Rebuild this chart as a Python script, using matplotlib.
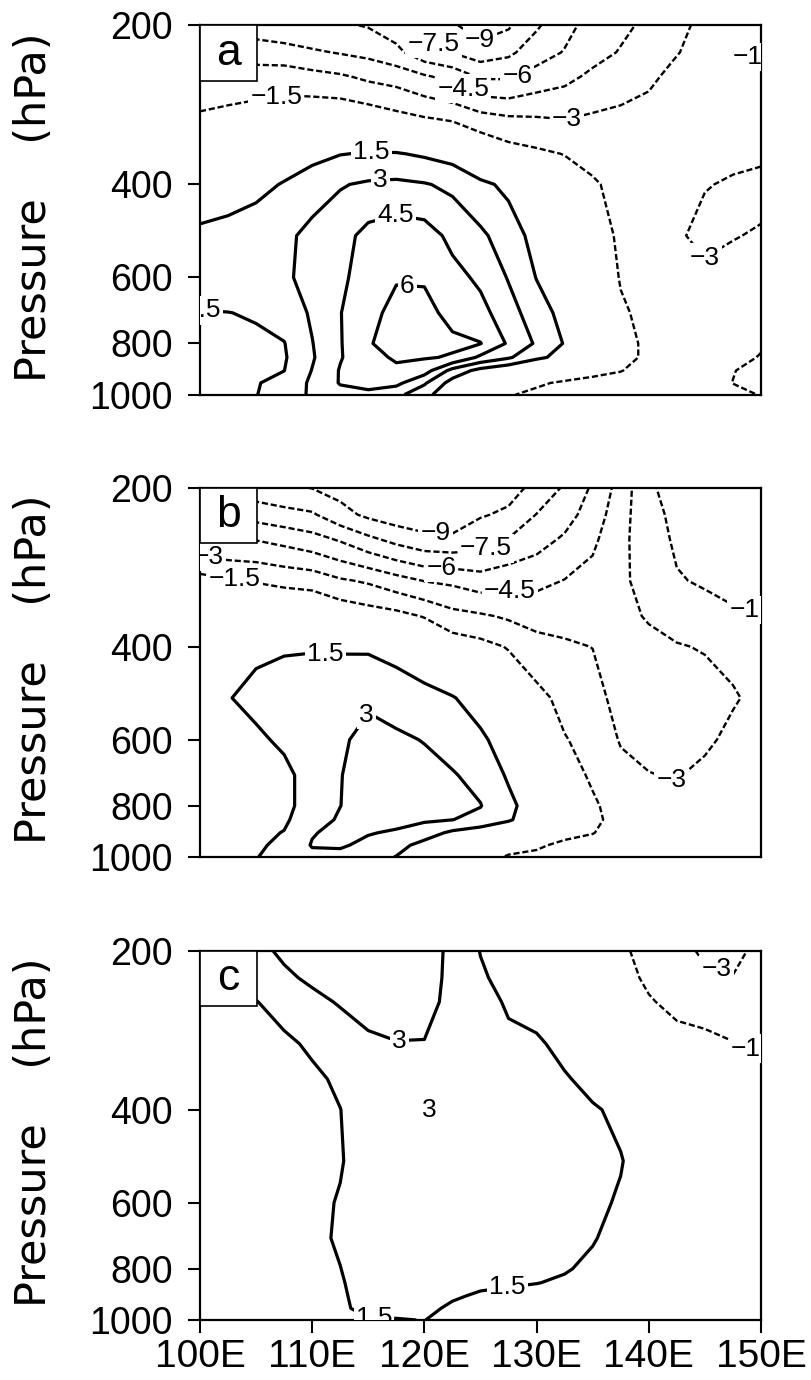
import numpy as np
import matplotlib
matplotlib.use("Agg")
import matplotlib.pyplot as plt
from matplotlib import font_manager, ticker
from matplotlib.patches import Rectangle

LONS = [100, 102.5, 105, 107.5, 110, 112.5, 115, 117.5, 120, 122.5, 125,
        127.5, 130, 132.5, 135, 137.5, 140, 142.5, 145, 147.5, 150]
LEVELS = [200, 225, 250, 300, 350, 400, 500, 600, 700, 800, 850, 900, 950, 1000]

# one vertical profile per longitude (100E ... 150E), values from 200 hPa down to 1000 hPa
FIELD_A = [
    [-4.9, -3.4, -2.4, -1.3, -0.2, 0.6, 1.8, 2.1, 1.45, 1.1, 1.0, 0.9, 0.9, 0.9],
    [-5.0, -3.6, -2.3, -1.1, 0.0, 0.8, 2.0, 2.3, 1.48, 1.2, 1.1, 1.0, 1.0, 1.0],
    [-5.2, -3.8, -2.2, -0.9, 0.3, 1.1, 2.3, 2.6, 1.6, 1.3, 1.25, 1.3, 1.4, 1.45],
    [-5.4, -4.0, -2.1, -0.7, 0.7, 1.6, 2.6, 2.8, 2.1, 1.45, 1.35, 1.48, 2.0, 2.3],
    [-5.7, -4.3, -2.5, -0.3, 1.1, 2.2, 3.5, 3.4, 3.2, 2.95, 2.85, 3.05, 3.25, 3.2],
    [-5.8, -4.6, -2.8, -0.2, 1.45, 2.9, 3.9, 4.2, 4.45, 4.4, 4.4, 4.6, 4.6, 4.0],
    [-6.1, -4.9, -3.3, -0.5, 1.6, 3.2, 5.0, 5.2, 5.6, 5.9, 5.5, 5.2, 4.9, 4.2],
    [-6.8, -5.6, -3.6, -1.0, 1.6, 3.3, 5.4, 5.9, 6.4, 6.5, 6.2, 5.7, 4.9, 3.4],
    [-8.0, -7.0, -4.3, -1.4, 1.3, 3.1, 5.2, 5.9, 6.3, 6.3, 6.1, 5.2, 3.2, 2.0],
    [-8.8, -7.55, -5.0, -1.7, 0.9, 2.7, 4.1, 5.0, 5.7, 6.2, 5.9, 2.5, 0.9, 0.3],
    [-9.8, -8.3, -6.2, -2.4, 0.0, 1.8, 3.3, 4.2, 5.0, 6.05, 4.2, 1.0, -0.2, -0.7],
    [-9.2, -7.8, -6.2, -2.8, -0.8, 1.2, 2.2, 2.9, 3.6, 4.3, 3.2, 0.2, -1.0, -1.4],
    [-7.7, -6.7, -5.4, -2.9, -1.2, 0.2, 1.0, 1.45, 2.2, 2.8, 1.8, -0.4, -1.3, -1.8],
    [-6.5, -5.9, -4.9, -3.05, -1.55, -0.6, 0.2, 0.6, 1.0, 1.4, 1.0, -0.5, -1.7, -2.0],
    [-5.4, -5.0, -4.2, -2.8, -2.0, -1.3, -0.6, -0.2, 0.1, 0.3, 0.0, -1.1, -1.9, -2.1],
    [-4.8, -4.4, -3.6, -2.7, -2.3, -2.0, -1.8, -1.6, -1.3, -1.0, -1.0, -1.45, -2.0, -2.2],
    [-4.2, -3.8, -3.2, -2.6, -2.4, -2.4, -2.3, -2.1, -1.9, -1.8, -1.8, -2.0, -2.2, -2.3],
    [-3.4, -3.05, -2.7, -2.5, -2.5, -2.6, -2.85, -2.6, -2.2, -2.0, -2.0, -2.1, -2.2, -2.3],
    [-2.6, -2.6, -2.6, -2.6, -2.7, -2.95, -3.3, -2.7, -2.3, -2.1, -2.1, -2.1, -2.2, -2.3],
    [-2.0, -2.1, -2.3, -2.5, -2.8, -3.1, -3.05, -2.6, -2.3, -2.3, -2.5, -2.95, -3.02, -2.7],
    [-1.2, -1.4, -1.7, -2.2, -2.8, -3.3, -2.9, -2.7, -2.5, -2.8, -3.1, -3.4, -3.5, -3.05],
]

FIELD_B = [
    [-7.8, -5.9, -4.3, -0.9, 0.0, 0.6, 1.1, 0.9, 0.7, 0.6, 0.6, 0.6, 0.6, 0.6],
    [-8.1, -6.2, -4.6, -1.3, 0.1, 0.8, 1.45, 1.2, 0.9, 0.8, 0.8, 0.8, 0.8, 0.8],
    [-8.4, -6.6, -4.6, -1.6, 0.2, 1.3, 1.8, 1.3, 1.0, 1.0, 1.1, 1.2, 1.3, 1.45],
    [-8.7, -7.0, -5.0, -1.9, 0.3, 1.4, 2.0, 1.7, 1.2, 1.2, 1.3, 1.55, 1.8, 2.0],
    [-9.05, -7.3, -5.5, -2.1, 0.2, 1.4, 2.3, 2.2, 2.0, 2.0, 2.3, 2.9, 3.1, 2.6],
    [-9.5, -8.5, -6.2, -2.8, -0.3, 1.35, 2.5, 2.8, 2.95, 2.98, 3.2, 3.4, 3.2, 2.5],
    [-10.0, -9.3, -7.2, -3.2, -0.7, 1.3, 2.8, 3.4, 3.6, 3.7, 3.6, 3.1, 2.6, 2.1],
    [-10.3, -9.8, -8.0, -3.9, -1.0, 0.9, 2.5, 3.2, 3.7, 3.9, 3.5, 2.8, 2.0, 1.45],
    [-10.4, -10.0, -8.6, -4.55, -1.6, 0.4, 2.0, 2.95, 3.4, 3.5, 3.2, 2.2, 1.0, 0.5],
    [-10.4, -10.0, -8.7, -4.8, -2.5, -0.6, 1.6, 2.5, 3.1, 3.2, 3.02, 1.2, 0.0, -0.4],
    [-9.7, -9.1, -8.3, -5.3, -2.8, -1.0, 0.8, 1.8, 2.6, 3.05, 2.6, 0.6, -0.6, -1.1],
    [-9.4, -8.8, -7.45, -5.0, -3.2, -1.6, -0.1, 0.7, 1.3, 1.9, 1.7, 0.0, -1.1, -1.6],
    [-8.7, -7.45, -6.6, -4.9, -3.5, -2.5, -1.0, -0.4, 0.2, 0.6, 0.4, -0.5, -1.3, -1.8],
    [-7.3, -6.6, -5.8, -4.45, -3.5, -2.8, -2.0, -1.4, -0.9, -0.6, -0.6, -1.1, -1.8, -2.1],
    [-5.8, -5.3, -4.8, -4.0, -3.5, -3.02, -2.5, -2.1, -1.7, -1.3, -1.2, -1.45, -2.0, -2.2],
    [-3.9, -3.6, -3.4, -3.25, -3.3, -3.4, -3.5, -3.1, -2.6, -2.1, -2.0, -2.1, -2.3, -2.4],
    [-1.65, -1.9, -2.1, -2.5, -2.9, -3.3, -3.6, -3.4, -2.95, -2.5, -2.3, -2.3, -2.4, -2.5],
    [-1.1, -1.2, -1.3, -1.6, -2.4, -3.1, -3.8, -3.7, -3.1, -2.6, -2.4, -2.3, -2.3, -2.4],
    [-0.8, -0.9, -1.0, -1.35, -2.0, -2.9, -3.6, -3.3, -2.6, -2.3, -2.2, -2.2, -2.2, -2.3],
    [-0.6, -0.7, -0.8, -1.1, -1.7, -2.6, -3.15, -2.6, -2.2, -2.1, -2.1, -2.1, -2.1, -2.2],
    [-0.5, -0.55, -0.6, -0.9, -1.6, -2.2, -2.6, -2.3, -2.1, -2.0, -2.0, -2.0, -2.0, -2.1],
]

FIELD_C = [
    [1.4, 1.2, 1.0, 0.8, 0.7, 0.7, 0.7, 0.7, 0.7, 0.7, 0.7, 0.7, 0.7, 0.7],
    [1.9, 1.4, 1.1, 0.9, 0.8, 0.8, 0.8, 0.8, 0.8, 0.8, 0.8, 0.8, 0.8, 0.8],
    [2.7, 2.1, 1.45, 1.0, 0.9, 0.85, 0.85, 0.85, 0.85, 0.85, 0.85, 0.85, 0.85, 0.85],
    [3.2, 2.8, 2.1, 1.2, 1.0, 0.95, 0.95, 0.95, 0.95, 0.95, 0.95, 0.95, 0.95, 0.95],
    [3.6, 3.2, 2.7, 1.75, 1.2, 1.1, 1.1, 1.15, 1.2, 1.2, 1.15, 1.1, 1.1, 1.1],
    [3.8, 3.5, 3.1, 2.3, 1.75, 1.48, 1.4, 1.6, 1.65, 1.48, 1.4, 1.35, 1.35, 1.3],
    [3.9, 3.7, 3.4, 2.8, 2.4, 2.3, 2.2, 2.2, 2.2, 2.1, 2.0, 1.9, 1.75, 1.45],
    [3.9, 3.8, 3.6, 2.95, 2.6, 2.6, 2.5, 2.45, 2.4, 2.3, 2.2, 2.0, 1.8, 1.45],
    [3.6, 3.5, 3.4, 2.95, 2.8, 3.05, 2.75, 2.6, 2.5, 2.35, 2.2, 2.0, 1.8, 1.52],
    [2.7, 2.7, 2.65, 2.6, 2.6, 2.7, 2.6, 2.5, 2.4, 2.2, 2.0, 1.65, 1.3, 1.1],
    [1.45, 1.7, 1.95, 2.15, 2.3, 2.4, 2.4, 2.35, 2.25, 2.0, 1.75, 1.35, 1.1, 0.9],
    [0.7, 1.0, 1.35, 1.75, 2.0, 2.1, 2.15, 2.1, 2.0, 1.8, 1.6, 1.3, 1.0, 0.8],
    [0.3, 0.5, 1.1, 1.65, 1.85, 1.95, 2.0, 1.95, 1.85, 1.65, 1.52, 1.25, 1.0, 0.8],
    [0.0, 0.1, 0.4, 1.2, 1.6, 1.75, 1.85, 1.8, 1.7, 1.56, 1.4, 1.2, 1.0, 0.8],
    [-0.5, -0.4, -0.1, 0.6, 1.2, 1.6, 1.75, 1.7, 1.55, 1.35, 1.25, 1.1, 0.95, 0.8],
    [-1.3, -1.1, -0.8, 0.0, 0.8, 1.3, 1.55, 1.4, 1.25, 1.1, 1.0, 0.95, 0.85, 0.75],
    [-1.9, -1.7, -1.4, -0.6, 0.2, 0.7, 1.0, 1.0, 0.9, 0.85, 0.8, 0.8, 0.75, 0.7],
    [-2.4, -2.2, -1.8, -1.1, -0.4, 0.2, 0.6, 0.7, 0.7, 0.7, 0.7, 0.7, 0.7, 0.7],
    [-3.3, -2.7, -2.0, -1.2, -0.6, 0.0, 0.4, 0.5, 0.6, 0.6, 0.6, 0.6, 0.6, 0.6],
    [-3.4, -2.95, -2.2, -1.45, -0.8, -0.3, 0.2, 0.4, 0.5, 0.5, 0.5, 0.5, 0.5, 0.5],
    [-2.6, -2.4, -2.1, -1.6, -1.0, -0.5, 0.0, 0.3, 0.4, 0.4, 0.4, 0.4, 0.4, 0.4],
]

NEG_LEVELS = [-10.5, -9, -7.5, -6, -4.5, -3, -1.5]
POS_LEVELS = [1.5, 3, 4.5, 6, 7.5]

# where the contour labels sit (lon, hPa)
LABELS_A = [(125.0, 211), (120.8, 219), (128.3, 250), (123.5, 261), (132.7, 298),
            (106.8, 270), (115.3, 348), (116.1, 387), (117.4, 452), (118.4, 645),
            (100.2, 700), (143.8, 588), (149.8, 230)]
LABELS_B = [(121.0, 245), (125.5, 263), (121.5, 285), (127.6, 322), (100.8, 267),
            (103.1, 292), (111.2, 411), (114.8, 538), (141.9, 721), (149.5, 338)]
LABELS_C = [(117.8, 295), (127.5, 877), (115.5, 992), (146.0, 222), (149.6, 308)]
PEAK_C = (120.4, 400, 3)

XTICKS = [100, 110, 120, 130, 140, 150]
YTICKS = [200, 400, 600, 800, 1000]

DASH = (0, (2.6, 1.2))
LABEL_BOX = dict(boxstyle="square,pad=0.08", facecolor="white", edgecolor="none")


def fmt_level(v):
    return f"{v:g}".replace("-", "\u2212")


def has_font(name):
    try:
        font_manager.findfont(name, fallback_to_default=False)
        return True
    except ValueError:
        return False


def draw_panel(ax, field, letter, label_pos):
    z = np.array(field).T
    levels = NEG_LEVELS + POS_LEVELS
    styles = [DASH] * len(NEG_LEVELS) + ["solid"] * len(POS_LEVELS)
    widths = [1.7] * len(NEG_LEVELS) + [2.3] * len(POS_LEVELS)
    cs = ax.contour(LONS, LEVELS, z, levels=levels, colors="k",
                    linestyles=styles, linewidths=widths)
    texts = ax.clabel(cs, manual=label_pos, inline=True, inline_spacing=2,
                      fmt=fmt_level, fontsize=19)
    for t in texts:
        t.set_rotation(0)
        t.set_bbox(LABEL_BOX)

    ax.set_yscale("log")
    ax.set_xlim(100, 150)
    ax.set_ylim(1000, 200)
    ax.set_yticks(YTICKS)
    ax.yaxis.set_major_formatter(ticker.FormatStrFormatter("%d"))
    ax.yaxis.set_minor_locator(ticker.NullLocator())
    ax.yaxis.set_minor_formatter(ticker.NullFormatter())
    ax.tick_params(axis="y", direction="out", length=8.5, width=1.5, labelsize=27, pad=11)
    ax.set_ylabel("Pressure    (hPa)", fontfamily="DejaVu Sans", fontsize=31)
    ax.yaxis.set_label_coords(-0.258, 0.508)

    box = Rectangle((0, 1 - 0.151), 0.1016, 0.151, transform=ax.transAxes,
                    facecolor="white", edgecolor="k", linewidth=1.2, zorder=6)
    ax.add_patch(box)
    ax.text(0.0508, 1 - 0.0755, letter, transform=ax.transAxes, fontsize=32,
            ha="center", va="center", zorder=7)


plt.rcParams.update({"font.family": "Liberation Sans", "axes.linewidth": 1.6})

fig = plt.figure(figsize=(8.11, 13.8), dpi=100)
left, width, height = 0.2466, 0.6917, 0.2676
ax_a = fig.add_axes([left, 0.7140, width, height])
ax_b = fig.add_axes([left, 0.3790, width, height])
ax_c = fig.add_axes([left, 0.0435, width, height])

draw_panel(ax_a, FIELD_A, "a", LABELS_A)
draw_panel(ax_b, FIELD_B, "b", LABELS_B)
draw_panel(ax_c, FIELD_C, "c", LABELS_C)

lon, p, val = PEAK_C
ax_c.text(lon, p, fmt_level(val), fontsize=19, ha="center", va="center",
          bbox=dict(boxstyle="square,pad=0.25", facecolor="white", edgecolor="none"))

for ax in (ax_a, ax_b):
    ax.tick_params(axis="x", bottom=False, labelbottom=False)

if has_font("Liberation Sans Narrow"):
    xfont, xsize = "Liberation Sans Narrow", 34
else:
    xfont, xsize = "Liberation Sans", 28
ax_c.set_xticks(XTICKS)
ax_c.set_xticklabels([f"{v}E" for v in XTICKS], fontfamily=xfont, fontsize=xsize)
ax_c.tick_params(axis="x", direction="out", length=9.5, width=1.5, pad=4)

fig.savefig("out.png", dpi=100)
